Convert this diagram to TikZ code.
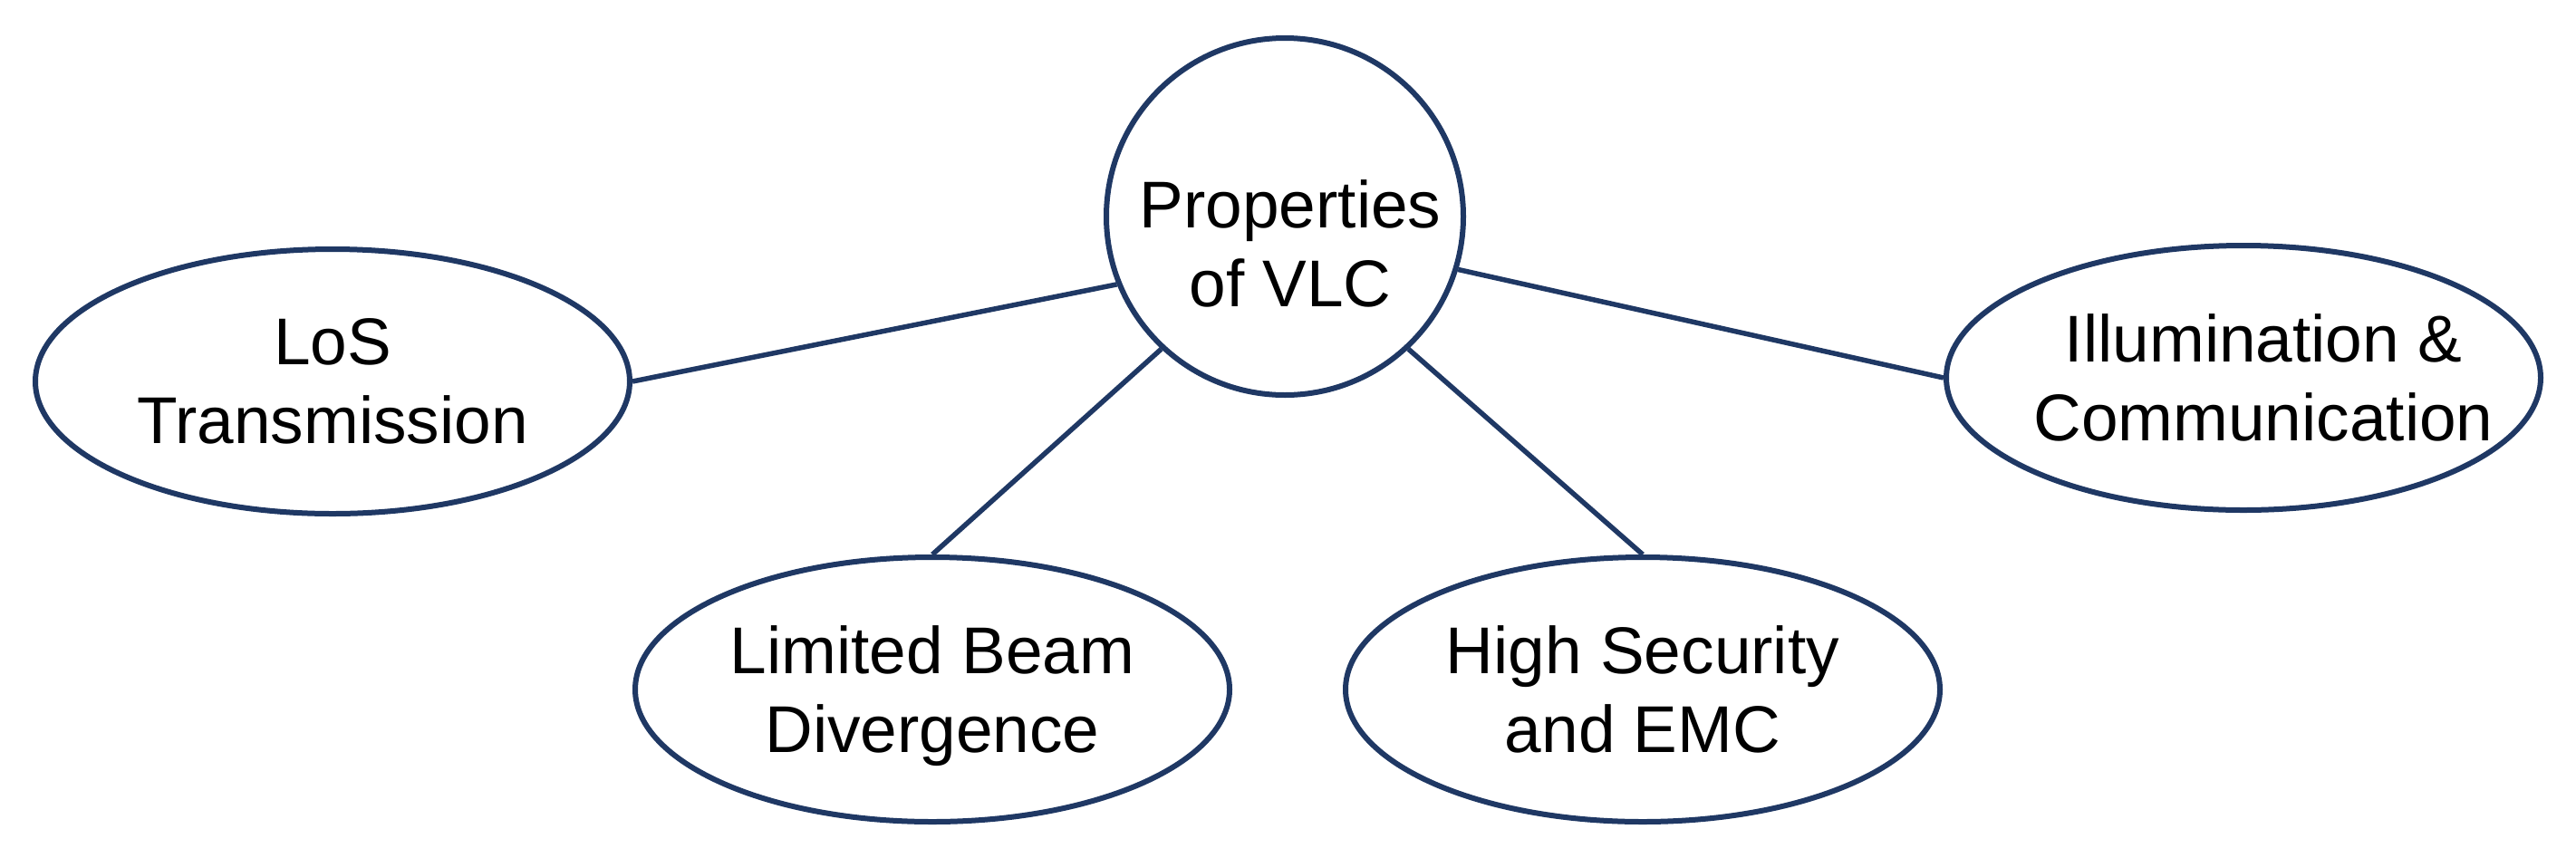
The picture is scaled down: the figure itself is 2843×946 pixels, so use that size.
\documentclass[tikz,border=0pt]{standalone}
\usepackage{fontspec}
\setmainfont{Liberation Sans}
\usetikzlibrary{shapes.geometric}
\definecolor{navy}{RGB}{31,56,100}
\begin{document}
\begin{tikzpicture}[x=1pt,y=1pt,
  bub/.style={ellipse, draw=navy, line width=6pt, fill=white, minimum width=656pt, minimum height=292pt, inner sep=0pt},
  hub/.style={circle, draw=navy, line width=6pt, fill=white, minimum size=394pt, inner sep=0pt},
  txt/.style={align=center, font=\fontsize{73}{87}\selectfont, text=black, inner sep=0pt, text depth=0pt},
  link/.style={draw=navy, line width=5.5pt}]
\useasboundingbox (0,0) rectangle (2843,-946);
\node[hub] (c) at (1418,-239) {};
\node[bub] (los) at (367,-421) {};
\node[bub] (lim) at (1029,-761) {};
\node[bub] (sec) at (1813,-761) {};
\node[bub] (ill) at (2476,-417) {};
\node[txt] (ct) at (1424,-269) {Properties\\of VLC};
\node[txt] (lost) at (los.center) {LoS\\Transmission};
\node[txt] (limt) at (lim.center) {Limited Beam\\Divergence};
\node[txt] (sect) at (sec.center) {High Security\\and EMC};
\node[txt] (illt) at (2498,-417) {Illumination \&\\Communication};
\draw[link] (los.east) -- (c.202);
\draw[link] (ill.west) -- (c.-17);
\draw[link] (lim.north) -- (c.227);
\draw[link] (sec.north) -- (c.-47);
\end{tikzpicture}
\end{document}
